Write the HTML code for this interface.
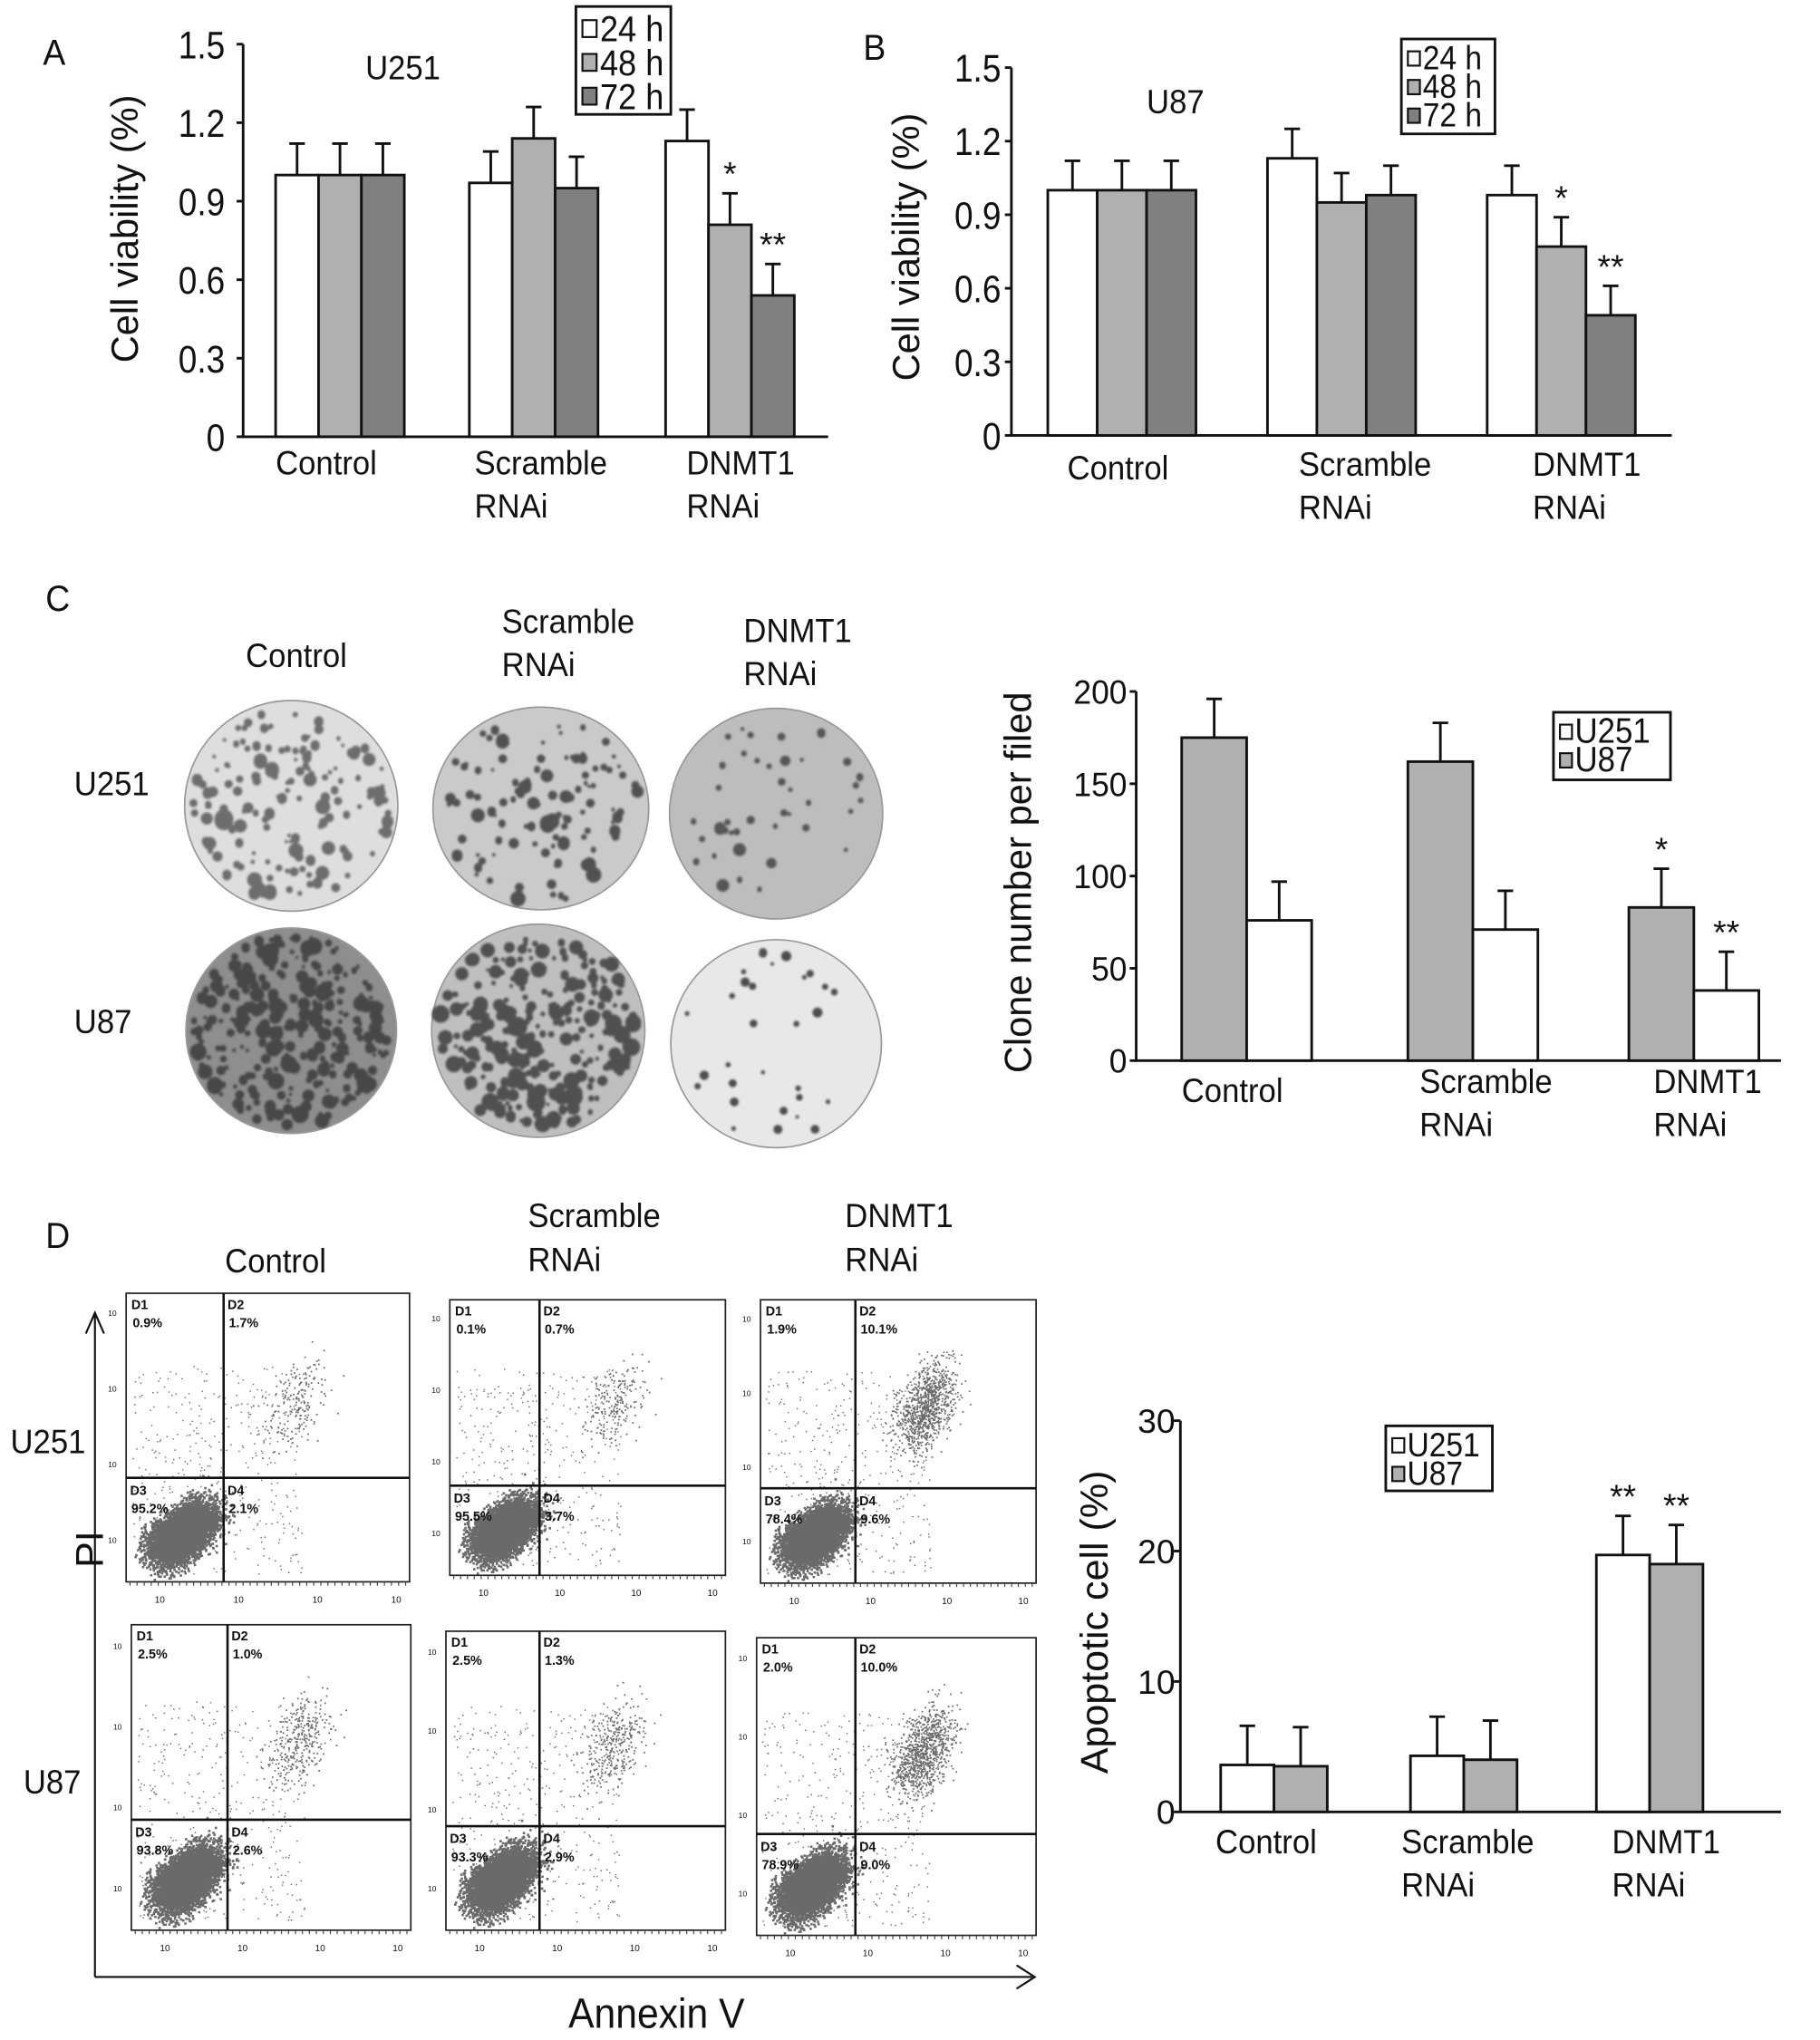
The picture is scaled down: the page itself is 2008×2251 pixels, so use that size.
<!DOCTYPE html>
<html><head><meta charset="utf-8"><style>
html,body{margin:0;padding:0;background:#fff}
svg{display:block}
text{font-family:"Liberation Sans",Arial,sans-serif;fill:#111}
</style></head><body>
<svg id="fig" width="2008" height="2251" viewBox="0 0 1400 1569.5" xmlns="http://www.w3.org/2000/svg">
<defs><filter id="blur" x="-10%" y="-10%" width="120%" height="120%"><feGaussianBlur stdDeviation="0.9"/></filter></defs>
</svg>
<script>
// ---------- data ----------
const catsA = ["Control","Scramble RNAi","DNMT1 RNAi"];
const a24 = [1.0, 0.97, 1.13];
const a48 = [1.0, 1.14, 0.81];
const a72 = [1.0, 0.95, 0.54];
const aErr = [0.12, 0.12, 0.12];
const b24 = [1.0, 1.13, 0.98];
const b48 = [1.0, 0.95, 0.77];
const b72 = [1.0, 0.98, 0.49];
const bErr = [0.12, 0.12, 0.12];
const viaTicks = [0, 0.3, 0.6, 0.9, 1.2, 1.5];
const clU87 = [175, 162, 83];
const clU251 = [76, 71, 38];
const clErr = [21, 21, 21];
const clTicks = [0, 50, 100, 150, 200];
const apU251 = [3.6, 4.3, 19.7];
const apU87 = [3.5, 4.0, 19.0];
const apErr = [3.0, 3.0, 3.0];
const apTicks = [0, 10, 20, 30];

const NS = "http://www.w3.org/2000/svg";
const svg = document.getElementById("fig");
function el(tag, attrs, parent, txt){
  const e = document.createElementNS(NS, tag);
  for (const k in attrs) e.setAttribute(k, attrs[k]);
  if (txt !== undefined) e.textContent = txt;
  (parent || svg).appendChild(e);
  return e;
}
const WHITE="#ffffff", LG="#b0b0b0", DG="#808080";

function barChart(o){
  const g = el("g", {});
  
  
  const y = v => o.y0 - (v - 0) / o.max * (o.y0 - o.yTop);
  const ax = el("path", {d:`M${o.x0} ${o.yTop} V${o.y0} H${o.xEnd}`, stroke:"#111", "stroke-width":2, fill:"none"}, g);
  
  
  o.ticks.forEach(t => {
    el("line", {x1:o.x0-5, x2:o.x0, y1:y(t), y2:y(t), stroke:"#111","stroke-width":2}, g);
    const tl = el("text", {transform:`translate(${o.x0-o.tgap},${y(t)+o.tfs*0.36}) scale(${o.tsc},1)`, "text-anchor":"end", "font-size":o.tfs}, g, String(t));
    
    
  });
  o.series.forEach((s, si) => {
    s.vals.forEach((v, ci) => {
      const x = o.groupX[ci] + si * o.bw;
      const r = el("rect", {x:x, y:y(v), width:o.bw, height:o.y0 - y(v), fill:s.color, stroke:"#111", "stroke-width":2}, g);
      
      
      const cx = x + o.bw/2, e = o.err[ci];
      el("path", {d:`M${cx} ${y(v)} V${y(v+e)} M${cx-6} ${y(v+e)} H${cx+6}`, stroke:"#111","stroke-width":2}, g);
      const st = (o.stars[si]||[])[ci];
      if (st) {
        const s2 = el("text", {x:cx, y:y(v+e)-6, "text-anchor":"middle","font-size":26}, g, st);
        
        
      }
    });
  });
  o.labels.forEach((lines, ci) => {
    lines.forEach((ln, li) => {
      const t = el("text", {transform:`translate(${o.labelX[ci]},${o.labelY[ci] + li*33}) scale(0.93,1)`, "font-size":26}, g, ln);
      
      
    });
  });
  const yt = el("text", {transform:`translate(${o.titleX},${o.titleY}) rotate(-90)`, "text-anchor":"middle","font-size":o.titleFs}, g, o.title);
  
  
  return g;
}

barChart({name:"chart-a-u251", x0:187, xEnd:637, y0:336, yTop:34, max:1.5, ticks:viaTicks, bw:33,
  tfs:30, tsc:0.86, tgap:14,
  groupX:[212,361,512], err:aErr,
  series:[{key:"24h",vals:a24,color:WHITE},{key:"48h",vals:a48,color:LG},{key:"72h",vals:a72,color:DG}],
  stars:[[],[0,0,"*"],[0,0,"**"]],
  labels:[["Control"],["Scramble","RNAi"],["DNMT1","RNAi"]], labelX:[212,365,528], labelY:[365,365,365],
  title:"Cell viability (%)", titleX:106, titleY:176, titleFs:29});
barChart({name:"chart-b-u87", x0:778, xEnd:1286, y0:335, yTop:52, max:1.5, ticks:viaTicks, bw:38,
  tfs:30, tsc:0.86, tgap:8,
  groupX:[806,975,1144], err:bErr,
  series:[{key:"24h",vals:b24,color:WHITE},{key:"48h",vals:b48,color:LG},{key:"72h",vals:b72,color:DG}],
  stars:[[],[0,0,"*"],[0,0,"**"]],
  labels:[["Control"],["Scramble","RNAi"],["DNMT1","RNAi"]], labelX:[821,999,1179], labelY:[369,366,366],
  title:"Cell viability (%)", titleX:707, titleY:190, titleFs:29});
barChart({name:"chart-c-clone-number", x0:874, xEnd:1370, y0:816, yTop:532, max:200, ticks:clTicks, bw:50,
  tfs:26, tsc:0.95, tgap:7,
  groupX:[909,1083,1253], err:clErr,
  series:[{key:"u87",vals:clU87,color:LG},{key:"u251",vals:clU251,color:WHITE}],
  stars:[[0,0,"*"],[0,0,"**"]],
  labels:[["Control"],["Scramble","RNAi"],["DNMT1","RNAi"]], labelX:[909,1092,1272], labelY:[848,841,841],
  title:"Clone number per filed", titleX:793, titleY:679, titleFs:29});
barChart({name:"chart-d-apoptotic", x0:908, xEnd:1370, y0:1394, yTop:1093, max:30, ticks:apTicks, bw:41,
  tfs:26, tsc:1, tgap:4,
  groupX:[939,1085,1228], err:apErr,
  series:[{key:"u251",vals:apU251,color:WHITE},{key:"u87",vals:apU87,color:LG}],
  stars:[[0,0,"**"],[0,0,"**"]],
  labels:[["Control"],["Scramble","RNAi"],["DNMT1","RNAi"]], labelX:[935,1078,1240], labelY:[1426,1426,1426],
  title:"Apoptotic cell (%)", titleX:852, titleY:1248, titleFs:30});

function legend(name, x, y, w, h, entries, fs, lh){
  const g = el("g", {});
  
  
  el("rect", {x:x, y:y, width:w, height:h, fill:"#fff", stroke:"#111", "stroke-width":2}, g);
  entries.forEach((e, i) => {
    const yy = y + 4 + i*lh;
    const s = el("rect", {x:x+5, y:yy+lh*0.25, width:lh*0.42, height:lh*0.5, fill:e[1], stroke:"#111","stroke-width":1.5}, g);
    
    
    const t = el("text", {transform:`translate(${x+5+lh*0.52},${yy+lh*0.88}) scale(0.9,1)`, "font-size":fs}, g, e[0]);
    
    
  });
}
legend("legend-a", 443, 5, 73, 83, [["24 h",WHITE],["48 h",LG],["72 h",DG]], 28, 26);
legend("legend-b", 1078, 30, 72, 73, [["24 h",WHITE],["48 h",LG],["72 h",DG]], 26, 22);
legend("legend-c", 1195, 548, 90, 52, [["U251",WHITE],["U87",LG]], 27, 22);
legend("legend-d", 1066, 1097, 82, 50, [["U251",WHITE],["U87",LG]], 26, 22);

function txt(name, x, y, s, fs, anchor){
  const t = el("text", {transform:`translate(${x},${y}) scale(0.93,1)`, "font-size":fs, "text-anchor":anchor||"start"}, svg, s);
  
  
}
txt("panel-label-a", 33, 50, "A", 28);
txt("panel-label-b", 664, 46, "B", 28);
txt("panel-label-c", 35, 470, "C", 28);
txt("panel-label-d", 35, 960, "D", 28);
txt("title-u251", 281, 61, "U251", 26);
txt("title-u87", 882, 87, "U87", 26);
txt("col-label-control-c", 189, 513, "Control", 26);
txt("col-label-scramble-c", 386, 487, "Scramble", 26);
txt("col-label-scramble-c2", 386, 520, "RNAi", 26);
txt("col-label-dnmt1-c", 572, 494, "DNMT1", 26);
txt("col-label-dnmt1-c2", 572, 527, "RNAi", 26);
txt("row-label-u251-c", 57, 612, "U251", 26);
txt("row-label-u87-c", 57, 795, "U87", 26);
txt("col-label-control-d", 173, 979, "Control", 26);
txt("col-label-scramble-d", 406, 944, "Scramble", 26);
txt("col-label-scramble-d2", 406, 978, "RNAi", 26);
txt("col-label-dnmt1-d", 650, 944, "DNMT1", 26);
txt("col-label-dnmt1-d2", 650, 978, "RNAi", 26);
txt("row-label-u251-d", 8, 1118, "U251", 26);
txt("row-label-u87-d", 18, 1380, "U87", 26);
txt("x-axis-title-annexin", 505, 1560, "Annexin V", 32, "middle");
{
  const t = el("text", {transform:"translate(79,1192) rotate(-90)", "font-size":30, "text-anchor":"middle"}, svg, "PI");
  
  
}
{
  const a = el("path", {d:"M73 1521 V1012 M66 1026 L73 1010 L80 1026 M73 1521 H794 M782 1512 L796 1521 L782 1530", stroke:"#111","stroke-width":1.5,fill:"none"});
  
  
}

let seed = 12345;
function rnd(){ seed = (seed * 1103515245 + 12345) % 2147483648; return seed / 2147483648; }
function gauss(){ return (rnd()+rnd()+rnd()+rnd()-2)/1.15; }

// [cx, cy, rx, ry, fill, count, maxR, dotColor]
const dishes = [
  [224,620,82,81,"#dedede",150,5,"#5a5a5a"],[416,622,83,78,"#cacaca",110,5,"#3e3e3e"],[597,626,82,81,"#bdbdbd",40,3,"#444"],
  [224,793,81,79,"#8e8e8e",300,5.5,"#3a3a3a"],[414,793,82,82,"#bfbfbf",280,6,"#3c3c3c"],[597,803,81,80,"#e8e8e8",30,4.5,"#333"]];
dishes.forEach((d, i) => {
  const g = el("g", {});
  
  
  el("ellipse", {cx:d[0], cy:d[1], rx:d[2], ry:d[3], fill:d[4], stroke:"#999", "stroke-width":1.2}, g);
  let p = "";
  for (let k=0;k<d[5];k++){
    const ang = rnd()*Math.PI*2, rr = Math.sqrt(rnd())*0.93;
    const r = 1 + rnd()*rnd()*d[6] + rnd()*1.5;
    const x = d[0]+Math.cos(ang)*rr*d[2], y = d[1]+Math.sin(ang)*rr*d[3];
    p += `M${(x-r).toFixed(1)} ${y.toFixed(1)}a${r.toFixed(1)} ${r.toFixed(1)} 0 1 0 ${(2*r).toFixed(1)} 0a${r.toFixed(1)} ${r.toFixed(1)} 0 1 0 ${(-2*r).toFixed(1)} 0`;
  }
  el("path", {d:p, fill:d[7], opacity:0.85, filter:"url(#blur)"}, g);
});

const flows = [
  [97,995,315,1217,172,1137,["0.9%","1.7%","95.2%","2.1%"],0.15],
  [346,1000,558,1212,415,1143,["0.1%","0.7%","95.5%","3.7%"],0.15],
  [585,1000,797,1218,658,1145,["1.9%","10.1%","78.4%","9.6%"],0.7],
  [101,1250,316,1485,175,1400,["2.5%","1.0%","93.8%","2.6%"],0.25],
  [343,1255,558,1485,415,1405,["2.5%","1.3%","93.3%","2.9%"],0.25],
  [582,1260,797,1489,658,1411,["2.0%","10.0%","78.9%","9.0%"],0.7]];
flows.forEach((f, i) => {
  const [x1,y1,x2,y2,vx,hy,pcts,sp] = f;
  const g = el("g", {});
  
  
  el("rect", {x:x1,y:y1,width:x2-x1,height:y2-y1,fill:"#fff",stroke:"#222","stroke-width":1.2}, g);
  let p = "";
  const W=x2-x1, H=y2-y1;
  for (let k=0;k<5000;k++){
    const a = gauss(), b = gauss();
    const x = x1 + W*0.2 + a*W*0.11 + b*W*0.04, y = y2 - H*0.17 - a*H*0.08 + b*H*0.07;
    if (x>x1+2&&x<x2-2&&y>y1+2&&y<y2-2) p += `M${x.toFixed(1)} ${y.toFixed(1)}h1.8v1.8h-1.8z`;
  }
  const nScatter = Math.round(1400*sp);
  for (let k=0;k<nScatter;k++){
    const a = gauss(), b = gauss();
    const x = x1 + W*0.6 + a*W*0.1 + b*W*0.05, y = y1 + H*0.38 - a*H*0.12 + b*H*0.1;
    if (x>x1+2&&x<x2-2&&y>y1+2&&y<y2-2) p += `M${x.toFixed(1)} ${y.toFixed(1)}h1.2v1.2h-1.2z`;
  }
  for (let k=0;k<400;k++){
    const x = x1 + 4 + rnd()*W*0.6, y = y1 + H*0.25 + rnd()*H*0.72;
    p += `M${x.toFixed(1)} ${y.toFixed(1)}h1v1h-1z`;
  }
  el("path", {d:p, fill:"#6a6a6a"}, g);
  el("path", {d:`M${vx} ${y1} V${y2} M${x1} ${hy} H${x2}`, stroke:"#111","stroke-width":1.8}, g);
  const lbl = [["D1",x1+4,y1+12],["D2",vx+3,y1+12],["D3",x1+3,hy+13],["D4",vx+3,hy+13]];
  lbl.forEach((l, j) => {
    const t = el("text", {x:l[1], y:l[2], "font-size":10, "font-weight":"bold"}, g, l[0]);
    
    
    const q = el("text", {x:l[1]+1, y:l[2]+14, "font-size":10, "font-weight":"bold"}, g, pcts[j]);
    
    
  });
  for (let d=0; d<4; d++){
    const tx = x1 + 22 + d*(W-24)/3.2;
    const t = el("text", {x:tx, y:y2+16, "font-size":7}, g, "10");
    
    
    const ty = y2 - 30 - d*(H-30)/3.3;
    const t2 = el("text", {x:x1-14, y:ty, "font-size":6}, g, "10");
    
    
  }
  let tk = "";
  for (let k=0;k<40;k++){ const tx = x1 + 3 + k*(W-6)/39; tk += `M${tx.toFixed(1)} ${y2} v3`; }
  el("path", {d:tk, stroke:"#444","stroke-width":0.8}, g);
});
</script>
</body></html>
